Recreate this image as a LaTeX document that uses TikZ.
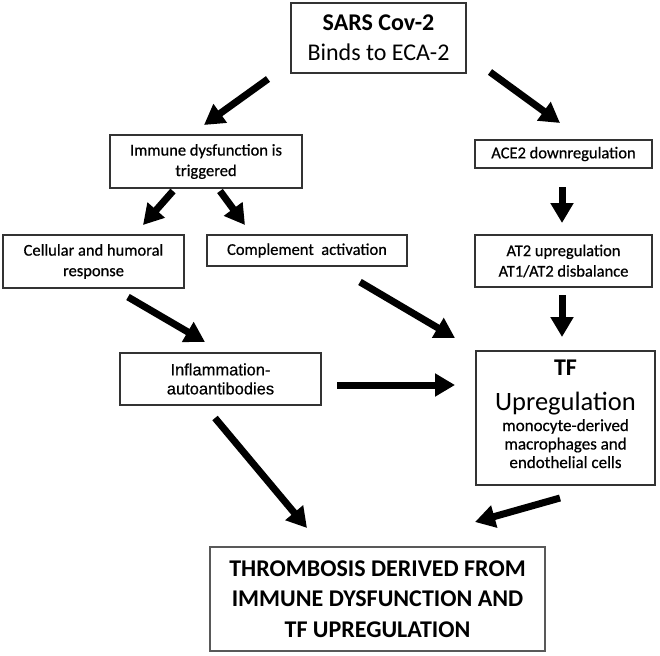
\documentclass[tikz,border=0pt]{standalone}
\usepackage{fontspec}
\setmainfont{Carlito}
\newfontfamily\arialfont{Liberation Sans}[FakeBold=0.5]
\newfontfamily\heavyfont{Carlito}[FakeBold=0.6]
\usetikzlibrary{arrows.meta}
\begin{document}
\begin{tikzpicture}[x=1pt,y=-1pt,
  box/.style={draw=black!80, line width=1.3pt, rectangle, inner sep=0pt, align=center},
  arr/.style={line width=7pt, -{Triangle[length=20pt,width=22pt]}},
  fsmall/.style={font=\heavyfont\fontsize{16.5}{20.5}\selectfont},
  fbig/.style={font=\fontsize{24}{30}\selectfont},
  lbl/.style={inner sep=0pt, anchor=base}]
\useasboundingbox[fill=white] (0,0) rectangle (660,655);

% boxes
\node[box, fbig, minimum width=175pt, minimum height=70pt] (sars) at (378.5,38)
  {\textbf{SARS Cov-2}\\Binds to ECA-2};
\node[box, fsmall, minimum width=192pt, minimum height=53pt] (immune) at (206,161.5)
  {Immune dysfunction is\\triggered};
\node[box, fsmall, minimum width=177pt, minimum height=28pt] (ace) at (563.5,154)
  {ACE2 downregulation};
\node[box, fsmall, minimum width=177pt, minimum height=52pt] (at2) at (563.5,261)
  {AT2 upregulation\\AT1/AT2 disbalance};
\node[box, fsmall, minimum width=181pt, minimum height=53pt] (cell) at (93.5,261.5)
  {Cellular and humoral\\response};
\node[box, fsmall, minimum width=200pt, minimum height=31pt] (comp) at (307,250.5)
  {Complement\ \ activation};
\node[box, font=\arialfont\fontsize{16.5}{19}\selectfont, minimum width=201pt, minimum height=52pt] (infl) at (220.5,379)
  {Inflammation-\\autoantibodies};
\node[box, minimum width=179pt, minimum height=134pt] (tf) at (565.5,418) {};
\node[lbl, font=\fontsize{24}{28}\selectfont\bfseries] (tft) at (565.5,375) {TF};
\node[lbl, font=\fontsize{26.5}{30}\selectfont] (tfu) at (565.5,410) {Upregulation};
\node[lbl, font=\heavyfont\fontsize{17}{19}\selectfont] (tf1) at (565.5,431) {monocyte-derived};
\node[lbl, font=\heavyfont\fontsize{17}{19}\selectfont] (tf2) at (565.5,449.5) {macrophages and};
\node[lbl, font=\heavyfont\fontsize{17}{19}\selectfont] (tf3) at (565.5,468) {endothelial cells};
\node[box, draw=black!65, line width=1.6pt, font=\fontsize{24}{30.5}\selectfont\bfseries,
  minimum width=335pt, minimum height=104pt] (thr) at (377.5,599)
  {THROMBOSIS\ DERIVED FROM\\IMMUNE DYSFUNCTION AND\\TF UPREGULATION};

% arrow end points
\coordinate (a1s) at (268,79);  \coordinate (a1e) at (204,125);
\coordinate (a2s) at (490,72);  \coordinate (a2e) at (560,123);
\coordinate (a3s) at (173,191); \coordinate (a3e) at (143,225);
\coordinate (a4s) at (220,191); \coordinate (a4e) at (245,225);
\coordinate (a5s) at (562,187); \coordinate (a5e) at (562,223);
\coordinate (a6s) at (562,295); \coordinate (a6e) at (562,337);
\coordinate (a7s) at (128,297); \coordinate (a7e) at (205,342);
\coordinate (a8s) at (360,282); \coordinate (a8e) at (455,338);
\coordinate (a9s) at (337,385); \coordinate (a9e) at (455,385);
\coordinate (a10s) at (215,418); \coordinate (a10e) at (307,528);
\coordinate (a11s) at (560,498); \coordinate (a11e) at (475,522);

\draw[arr] (a1s) -- (a1e);
\draw[arr] (a2s) -- (a2e);
\draw[arr] (a3s) -- (a3e);
\draw[arr] (a4s) -- (a4e);
\draw[arr] (a5s) -- (a5e);
\draw[arr] (a6s) -- (a6e);
\draw[arr] (a7s) -- (a7e);
\draw[arr] (a8s) -- (a8e);
\draw[arr] (a9s) -- (a9e);
\draw[arr] (a10s) -- (a10e);
\draw[arr] (a11s) -- (a11e);
\end{tikzpicture}
\end{document}
